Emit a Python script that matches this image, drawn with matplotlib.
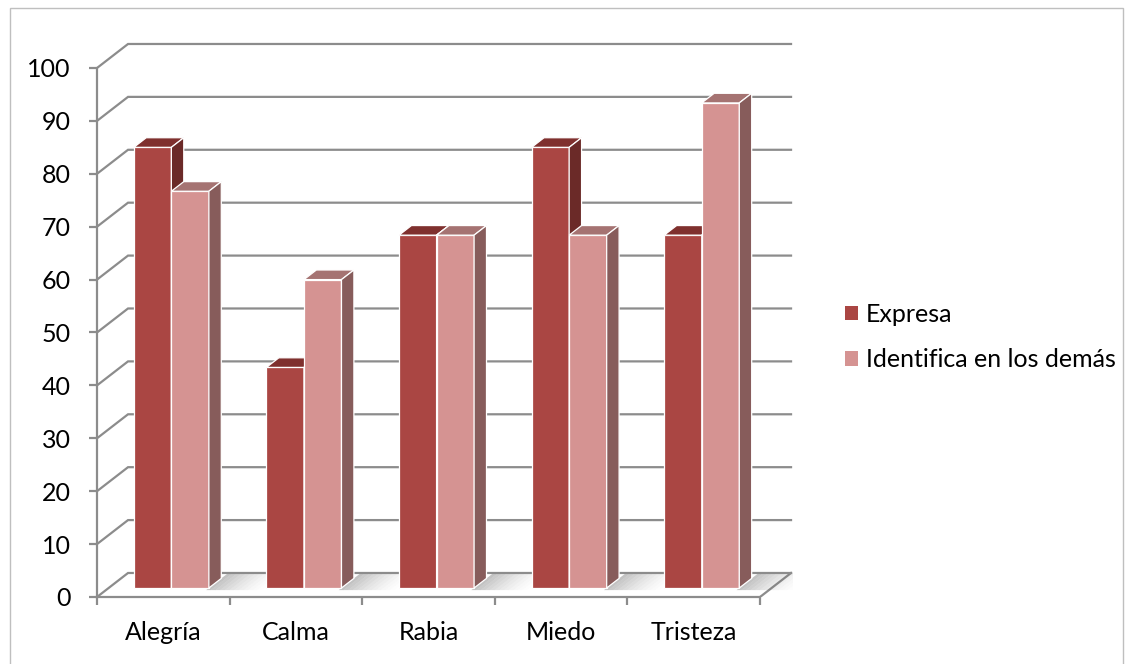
import matplotlib.pyplot as plt
from matplotlib.patches import Polygon, Patch, Rectangle

categories = ["Alegría", "Calma", "Rabia", "Miedo", "Tristeza"]
expresa = [83.3, 41.7, 66.7, 83.3, 66.7]
identifica = [75.0, 58.3, 66.7, 66.7, 91.7]
series_names = ["Expresa", "Identifica en los demás"]

# face colours: front, top, side
RED = ("#aa4643", "#7f302e", "#6b2a28")
PINK = ("#d59392", "#a57372", "#875c5b")
GRID = "#8c8c8c"

# oblique depth of the plot box in data units
DX, DY = 0.234, 4.54
# bar front plane and bar depth as fractions of the box depth
F0, F1 = 0.375, 0.40
BAR_W = 0.283
GROUP_OFF = 0.19
FS = 18

plt.rcParams["font.family"] = ["Lato", "DejaVu Sans"]

fig = plt.figure(figsize=(11.31, 6.64), dpi=100)
px_x, px_y = 132.6, 5.29
ax = fig.add_axes([97 / 1131, 67 / 664, 5.25 * px_x / 1131, 105 * px_y / 664])
ax.set_xlim(0, 5.25)
ax.set_ylim(0, 105)

# chart border
fig.patches.append(Rectangle((10 / 1131, -0.02), 1113 / 1131, 1.0 - 8 / 664 + 0.02,
                             transform=fig.transFigure, fill=False,
                             edgecolor="#bfbfbf", linewidth=1))

# back wall gridlines and side wall diagonals
for v in range(0, 101, 10):
    ax.plot([0, DX, 5 + DX], [v, v + DY, v + DY], color=GRID, lw=1.6, zorder=1,
            solid_joinstyle="miter")
# floor right edge
ax.plot([5, 5 + DX], [0, DY], color=GRID, lw=1.6, zorder=1)

sx0, sy0 = F0 * DX, F0 * DY
sx1, sy1 = F1 * DX, F1 * DY
slope = DX / DY


def draw_shadow(xr):
    # faded shadow cast on the floor to the right of a bar group
    y0, y1 = sy0 - 0.4, DY - 0.2
    n = 12
    step = 0.035
    for k in range(n):
        a = 0.38 * (1 - k / n) ** 1.5
        xa = xr + k * step
        xb = xa + step
        ax.add_patch(Polygon([(xa + (y0 - sy0) * slope, y0), (xb + (y0 - sy0) * slope, y0),
                              (xb + (y1 - sy0) * slope, y1), (xa + (y1 - sy0) * slope, y1)],
                             closed=True, facecolor="#606060", edgecolor="none",
                             alpha=a, zorder=2))


def draw_bar(xl, h, cols, z):
    ax.bar(xl, h, bottom=sy0, width=BAR_W, align="edge", color=cols[0],
           edgecolor="white", linewidth=0.9, zorder=z)
    top = sy0 + h
    ax.add_patch(Polygon([(xl, top), (xl + BAR_W, top), (xl + BAR_W + sx1, top + sy1),
                          (xl + sx1, top + sy1)], closed=True, facecolor=cols[1],
                         edgecolor="white", linewidth=0.9, zorder=z))
    ax.add_patch(Polygon([(xl + BAR_W, sy0), (xl + BAR_W + sx1, sy0 + sy1),
                          (xl + BAR_W + sx1, top + sy1), (xl + BAR_W, top)], closed=True,
                         facecolor=cols[2], edgecolor="white", linewidth=0.9, zorder=z))


for i in range(len(categories)):
    xl = i + GROUP_OFF + sx0
    draw_shadow(xl + 2 * BAR_W)
    draw_bar(xl, expresa[i], RED, 3 + 2 * i)
    draw_bar(xl + BAR_W, identifica[i], PINK, 4 + 2 * i)

for s in ["top", "right"]:
    ax.spines[s].set_visible(False)
ax.spines["left"].set_bounds(0, 100)
ax.spines["bottom"].set_bounds(0, 5)
for s in ["left", "bottom"]:
    ax.spines[s].set_color(GRID)
    ax.spines[s].set_linewidth(1.6)

ax.set_yticks(range(0, 101, 10))
ax.tick_params(axis="y", length=6, width=1.6, color=GRID, pad=13, labelsize=FS)
ax.set_xticks(range(0, 6))
ax.set_xticklabels([])
ax.set_xticks([i + 0.5 for i in range(5)], minor=True)
ax.set_xticklabels(categories, minor=True)
ax.tick_params(axis="x", which="major", length=6, width=1.6, color=GRID)
ax.tick_params(axis="x", which="minor", length=0, pad=17, labelsize=FS)

handles = [Patch(facecolor=RED[0]), Patch(facecolor=PINK[0])]
fig.legend(handles, series_names, loc="center left", bbox_to_anchor=(845 / 1131, 1 - 337 / 664),
           frameon=False, fontsize=FS, handlelength=0.52, handleheight=0.52,
           handletextpad=0.33, labelspacing=0.9, borderpad=0, borderaxespad=0)

fig.savefig("out.png", dpi=100)
